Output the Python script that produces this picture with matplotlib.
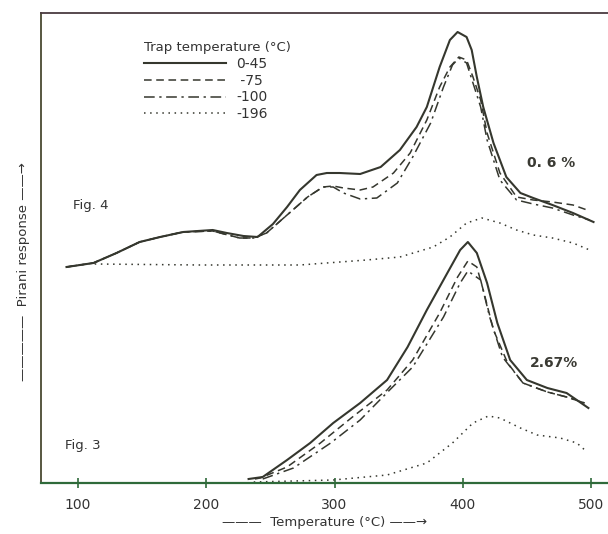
import matplotlib
matplotlib.use('Agg')
import matplotlib.pyplot as plt

# Fig. 4 (0.6 %) - temperature in C, response in arbitrary units
t4_045 = [91, 112, 130, 148, 164, 182, 205, 216, 229, 240, 252, 263, 273, 286, 294, 304, 320,
          336, 351, 364, 372, 382, 390, 396, 403, 407, 411, 416, 424, 434, 445, 455, 470, 486, 502]
r4_045 = [216, 220, 230, 241, 246, 251, 253, 250, 247, 246, 259, 276, 293, 308, 310, 310, 309,
          316, 333, 356, 376, 416, 443, 451, 446, 433, 406, 376, 340, 306, 290, 285, 278, 270, 261]

t4_75 = [91, 112, 130, 148, 164, 182, 205, 211, 226, 237, 247, 263, 279, 291, 299, 307, 320,
         330, 346, 359, 372, 382, 390, 397, 403, 408, 414, 419, 429, 442, 455, 470, 486, 497]
r4_75 = [216, 220, 230, 241, 246, 251, 252, 250, 245, 245, 250, 268, 286, 296, 297, 295, 293,
         296, 310, 330, 363, 396, 416, 426, 423, 406, 383, 350, 310, 286, 283, 281, 278, 273]

t4_100 = [91, 112, 130, 148, 164, 182, 205, 211, 226, 237, 247, 263, 279, 291, 299, 307, 320,
          333, 349, 361, 375, 385, 392, 397, 403, 408, 414, 419, 429, 442, 455, 470, 486, 499]
r4_100 = [216, 220, 230, 241, 246, 251, 252, 250, 245, 245, 250, 268, 286, 296, 296, 290, 284,
          285, 300, 326, 360, 396, 418, 425, 420, 400, 376, 343, 303, 283, 279, 275, 268, 263]

t4_196 = [113, 195, 273, 325, 351, 377, 390, 403, 415, 429, 442, 455, 470, 486, 499]
r4_196 = [219, 218, 218, 223, 226, 236, 246, 260, 265, 260, 253, 248, 245, 240, 233]

# Fig. 3 (2.67 %)
t3_045 = [233, 244, 263, 281, 299, 320, 341, 357, 372, 388, 398, 404, 411, 419, 427, 437, 450,
          466, 481, 498]
r3_045 = [4, 6, 23, 40, 60, 80, 103, 136, 173, 210, 233, 241, 230, 200, 160, 123, 103, 95, 90, 75]

t3_75 = [238, 242, 263, 289, 314, 341, 361, 382, 396, 404, 411, 416, 424, 435, 447, 466, 481, 495]
r3_75 = [4, 5, 16, 40, 66, 93, 123, 170, 206, 222, 216, 193, 153, 120, 100, 91, 86, 80]

t3_100 = [244, 268, 297, 320, 343, 361, 385, 398, 404, 414, 421, 431, 447, 466, 481, 495]
r3_100 = [4, 15, 40, 63, 93, 116, 166, 200, 212, 203, 166, 126, 100, 91, 86, 80]

t3_196 = [237, 299, 341, 372, 392, 408, 420, 429, 445, 458, 476, 489, 497]
r3_196 = [1, 3, 8, 20, 40, 60, 67, 65, 55, 48, 45, 40, 31]

labels = ['0-45', ' -75', '-100', '-196']
ink = '#35372e'

fig = plt.figure(figsize=(6.08, 5.34), dpi=100)
ax = fig.add_axes([41 / 608, 1 - 483 / 534, 1 - 41 / 608, 470 / 534])

styles = [dict(ls='-', lw=1.5), dict(ls=(0, (5, 3)), lw=1.1),
          dict(ls=(0, (7, 3, 1.5, 3)), lw=1.1), dict(ls=(0, (1, 3)), lw=1.1)]

fig4 = [(t4_045, r4_045), (t4_75, r4_75), (t4_100, r4_100), (t4_196, r4_196)]
fig3 = [(t3_045, r3_045), (t3_75, r3_75), (t3_100, r3_100), (t3_196, r3_196)]
for (t, r), st, lab in zip(fig4, styles, labels):
    ax.plot(t, r, color=ink, label=lab, **st)
for (t, r), st in zip(fig3, styles):
    ax.plot(t, r, color=ink, **st)

ax.set_xlim(71.1, 513.3)
ax.set_ylim(0, 470)
ax.set_xticks([100, 200, 300, 400, 500])
ax.set_yticks([])
ax.tick_params(axis='x', direction='inout', length=7, width=1.2, color='#2f6a3a',
               labelsize=10, labelcolor='#333333', pad=7)
ax.spines['right'].set_visible(False)
ax.spines['bottom'].set_color('#2f6a3a')
ax.spines['bottom'].set_linewidth(1.6)
ax.spines['left'].set_color('#4a4a32')
ax.spines['left'].set_linewidth(1.3)
ax.spines['top'].set_color('#4a3a40')
ax.spines['top'].set_linewidth(1.3)

ax.text(96, 278, 'Fig. 4', fontsize=9.5, color='#333333', va='center')
ax.text(90, 37, 'Fig. 3', fontsize=9.5, color='#333333', va='center')
ax.text(450, 320, '0. 6 %', fontsize=10, fontweight='bold', color='#3a3a33', va='center')
ax.text(452, 120, '2.67%', fontsize=10, fontweight='bold', color='#3a3a33', va='center')

leg = ax.legend(title='Trap temperature (°C)', loc='upper left', bbox_to_anchor=(0.17, 0.955),
                frameon=False, handlelength=5.9, fontsize=10, title_fontsize=9.5,
                labelspacing=0.2, borderpad=0, handletextpad=0.7, alignment='left')
for txt in leg.get_texts():
    txt.set_color('#333333')
leg.get_title().set_color('#333333')

ax.set_xlabel('———  Temperature (°C) ——→', fontsize=9.5, color='#333333', labelpad=3)
fig.text(24 / 608, 1 - 272 / 534, '—————  Pirani response ——→', rotation=90,
         fontsize=9.5, color='#333333', ha='center', va='center')

fig.savefig('out.png', dpi=100)
